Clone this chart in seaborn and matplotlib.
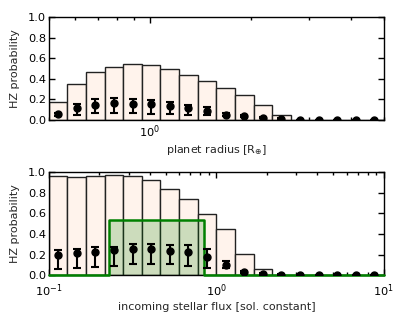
import numpy as np
import matplotlib
matplotlib.use("Agg")
import matplotlib.pyplot as plt
import seaborn as sns
from matplotlib.ticker import NullFormatter, MultipleLocator

sns.set_style("ticks")
plt.rcParams['font.family'] = ['DejaVu Sans']
plt.rcParams['mathtext.fontset'] = 'dejavusans'

# ---- data: planet radius panel ----
radius_range = (0.5, 5.0)
radius_bar = [0.177, 0.345, 0.461, 0.516, 0.545, 0.529, 0.497, 0.435, 0.374,
              0.306, 0.239, 0.148, 0.045, 0.0, 0.0, 0.0, 0.0, 0.0]
radius_pt = [0.055, 0.12, 0.15, 0.16, 0.158, 0.152, 0.136, 0.12, 0.09,
             0.05, 0.035, 0.02, 0.01, 0.002, 0.002, 0.002, 0.002, 0.002]
radius_lo = [0.035, 0.05, 0.065, 0.07, 0.065, 0.06, 0.058, 0.05, 0.05,
             0.04, 0.028, 0.015, 0.006, 0.0, 0.0, 0.0, 0.0, 0.0]
radius_hi = [0.07, 0.155, 0.20, 0.21, 0.205, 0.195, 0.175, 0.15, 0.125,
             0.065, 0.045, 0.027, 0.015, 0.004, 0.004, 0.004, 0.004, 0.004]

# ---- data: stellar flux panel ----
flux_range = (0.1, 10.0)
flux_bar = [0.967, 0.95, 0.958, 0.974, 0.964, 0.922, 0.838, 0.74, 0.594,
            0.448, 0.206, 0.055, 0.0, 0.0, 0.0, 0.0, 0.0, 0.0]
flux_pt = [0.20, 0.214, 0.226, 0.24, 0.249, 0.249, 0.236, 0.226, 0.172,
           0.097, 0.032, 0.012, 0.004, 0.002, 0.002, 0.002, 0.002, 0.002]
flux_lo = [0.055, 0.065, 0.075, 0.09, 0.104, 0.107, 0.107, 0.09, 0.065,
           0.071, 0.022, 0.006, 0.0, 0.0, 0.0, 0.0, 0.0, 0.0]
flux_hi = [0.243, 0.252, 0.269, 0.275, 0.307, 0.307, 0.291, 0.291, 0.25,
           0.136, 0.045, 0.02, 0.008, 0.004, 0.004, 0.004, 0.004, 0.004]

hz_bounds = [0.23, 0.845]
hz_frac = 0.535

ylabel = "HZ probability"
xlabel_top = r"planet radius [R$_{\oplus}$]"
xlabel_bot = "incoming stellar flux [sol. constant]"

BAR_FACE = "#fff3ec"
BAR_EDGE = "#222222"

fig = plt.figure(figsize=(4.07, 3.26), dpi=100)
ax1 = fig.add_axes([0.120, 0.632, 0.823, 0.316])
ax2 = fig.add_axes([0.120, 0.156, 0.823, 0.316])


def draw_panel(ax, xr, bars):
    n = len(bars)
    edges = np.logspace(np.log10(xr[0]), np.log10(xr[1]), n + 1)
    centers = np.sqrt(edges[:-1] * edges[1:])
    ax.bar(edges[:-1], bars, width=np.diff(edges), align='edge',
           color=BAR_FACE, edgecolor=BAR_EDGE, linewidth=1.0, zorder=1)
    return edges, centers


def draw_points(ax, centers, pts, lo, hi):
    pts = np.asarray(pts)
    yerr = np.vstack([pts - np.asarray(lo), np.asarray(hi) - pts])
    ax.errorbar(centers, pts, yerr=yerr, fmt='o', color='black',
                markersize=5, elinewidth=1.5, capsize=3, capthick=1.5,
                zorder=5)


def style(ax, xr, xpad):
    ax.set_xscale('log')
    ax.set_xlim(*xr)
    ax.set_ylim(0, 1.0)
    ax.yaxis.set_major_locator(MultipleLocator(0.2))
    ax.tick_params(which='both', direction='in', top=True, right=True,
                   labelsize=8.2, colors='black')
    ax.tick_params(axis='y', pad=2)
    ax.tick_params(axis='x', pad=xpad)
    ax.tick_params(which='major', length=4, width=1)
    ax.tick_params(which='minor', length=2, width=1)
    ax.xaxis.set_minor_formatter(NullFormatter())
    for s in ax.spines.values():
        s.set_linewidth(1.0)
        s.set_color('black')
    ax.set_ylabel(ylabel, fontsize=8, labelpad=6)


e1, c1 = draw_panel(ax1, radius_range, radius_bar)
draw_points(ax1, c1, radius_pt, radius_lo, radius_hi)
style(ax1, radius_range, 2.5)
ax1.set_xlabel(xlabel_top, fontsize=8, labelpad=2)

e2, c2 = draw_panel(ax2, flux_range, flux_bar)
# habitable zone step histogram
hz_x = [flux_range[0], hz_bounds[0], hz_bounds[1], flux_range[1]]
hz_y = [0.0, hz_frac, 0.0, 0.0]
ax2.fill_between(hz_x, hz_y, step='post', color='green', alpha=0.2,
                 linewidth=0, zorder=2)
ax2.step(hz_x, hz_y, where='post', color='green', linewidth=1.8, zorder=3,
         clip_on=False)
draw_points(ax2, c2, flux_pt, flux_lo, flux_hi)
style(ax2, flux_range, 5.5)
ax2.set_xlabel(xlabel_bot, fontsize=8, labelpad=2)

fig.savefig("out.png", dpi=100)
